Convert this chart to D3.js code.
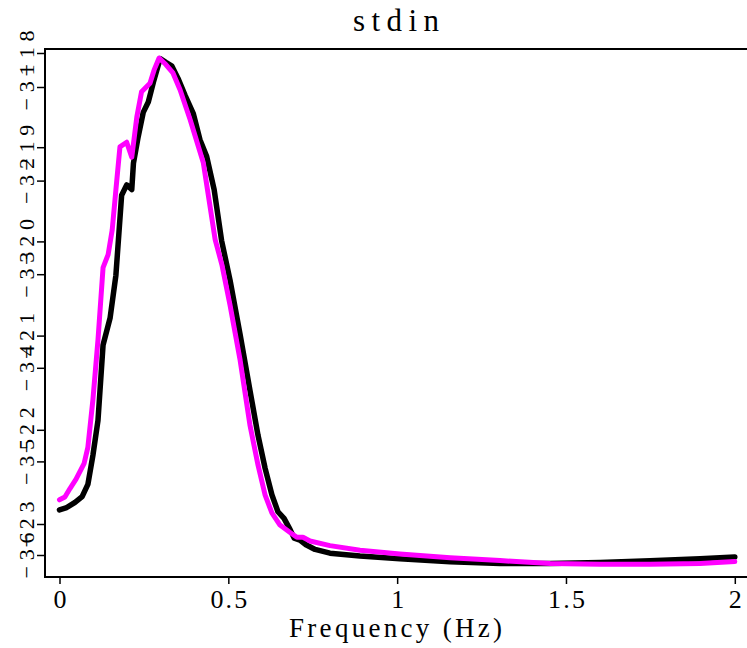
<!DOCTYPE html>
<html>
<head>
<meta charset="utf-8">
<script src="https://cdn.jsdelivr.net/npm/d3@7/dist/d3.min.js"></script>
<style>
  html, body { margin: 0; padding: 0; background: #fff; }
  svg { display: block; }
  text { font-family: "Liberation Serif", "DejaVu Serif", serif; fill: #000; }
</style>
</head>
<body>
<svg id="chart" width="747" height="648"></svg>
<script>
// Amplitude spectra of two traces, each drawn against its own vertical axis.
const blackFreq = [0.000, 0.019, 0.046, 0.067, 0.084, 0.099, 0.114, 0.129, 0.150, 0.167,
  0.184, 0.199, 0.214, 0.219, 0.233, 0.248, 0.263, 0.278, 0.298, 0.315,
  0.333, 0.351, 0.372, 0.396, 0.416, 0.436, 0.458, 0.480, 0.505, 0.535,
  0.564, 0.588, 0.609, 0.629, 0.647, 0.665, 0.683, 0.695, 0.712, 0.730,
  0.757, 0.801, 0.890, 1.008, 1.157, 1.305, 1.453, 1.601, 1.749, 1.897, 2.000];
const blackValue = [-22.85, -22.83, -22.77, -22.71, -22.58, -22.27, -21.90, -21.10, -20.81, -20.36,
  -19.51, -19.40, -19.45, -19.17, -18.89, -18.63, -18.52, -18.31, -18.06, -18.10,
  -18.14, -18.27, -18.45, -18.64, -18.92, -19.10, -19.45, -19.99, -20.41, -20.99,
  -21.58, -22.06, -22.41, -22.69, -22.87, -22.94, -23.06, -23.15, -23.17, -23.22,
  -23.27, -23.31, -23.34, -23.37, -23.40, -23.42, -23.42, -23.41, -23.39, -23.37, -23.35];

const magentaFreq = [0.000, 0.016, 0.031, 0.049, 0.073, 0.084, 0.099, 0.114, 0.129, 0.144,
  0.156, 0.167, 0.179, 0.199, 0.214, 0.229, 0.243, 0.268, 0.280, 0.295,
  0.315, 0.336, 0.357, 0.387, 0.426, 0.461, 0.481, 0.505, 0.535, 0.564,
  0.588, 0.609, 0.629, 0.653, 0.683, 0.703, 0.721, 0.742, 0.801, 0.890,
  1.008, 1.157, 1.305, 1.453, 1.601, 1.749, 1.897, 2.000];
const magentaValue = [-35.41, -35.38, -35.29, -35.19, -35.02, -34.85, -34.34, -33.70, -32.93, -32.79,
  -32.53, -32.10, -31.64, -31.59, -31.75, -31.32, -31.05, -30.96, -30.82, -30.69,
  -30.76, -30.85, -31.03, -31.35, -31.81, -32.63, -32.90, -33.33, -33.92, -34.61,
  -35.04, -35.36, -35.55, -35.68, -35.76, -35.81, -35.81, -35.85, -35.90, -35.95,
  -35.99, -36.03, -36.06, -36.09, -36.10, -36.10, -36.09, -36.07];

const xTicks = [0, 0.5, 1, 1.5, 2];
const xTickLabels = ["0", "0.5", "1", "1.5", "2"];
const blackTicks = [-18, -19, -20, -21, -22, -23];
const magentaTicks = [-31, -32, -33, -34, -35, -36];

const titleText = "stdin";
const xTitleText = "Frequency (Hz)";

const svg = d3.select("#chart");
const W = 747, H = 648;
const frameLeft = 45, frameTop = 49, frameBottom = 577;

const x = d3.scaleLinear().domain([0, 2]).range([59.5, 734.8]);
const yBlack = d3.scaleLinear().domain([-23, -18]).range([524, 53]);
const yMagenta = d3.scaleLinear().domain([-36, -31]).range([555, 87]);

// frame (right edge runs past the page)
svg.append("path")
  .attr("d", `M${W + 5},${frameTop}H${frameLeft}V${frameBottom}H${W + 5}`)
  .attr("fill", "none").attr("stroke", "#000").attr("stroke-width", 2);

// x axis
const gx = svg.append("g").attr("transform", `translate(0,${frameBottom})`)
  .call(d3.axisBottom(x).tickValues(xTicks).tickSize(7)
    .tickFormat((d, i) => xTickLabels[i]));
gx.select(".domain").remove();
gx.selectAll(".tick line").attr("stroke", "#000").attr("stroke-width", 1.5);
gx.selectAll(".tick text")
  .attr("y", 31).attr("dy", 0)
  .attr("font-size", 26)
  .attr("font-family", "Liberation Serif")
  .each(function () {
    const t = d3.select(this);
    const n = t.text().length;
    if (n > 1) t.attr("textLength", n * 12.3).attr("lengthAdjust", "spacing");
  });

// left axes, one per curve, labels turned to read upward
const minusFormat = d => (d < 0 ? "\u2212" : "") + Math.abs(d);
function leftAxis(scale, ticks) {
  const g = svg.append("g").attr("transform", `translate(${frameLeft},0)`)
    .call(d3.axisLeft(scale).tickValues(ticks).tickSize(8).tickFormat(minusFormat));
  g.select(".domain").remove();
  g.selectAll(".tick line").attr("stroke", "#000").attr("stroke-width", 1.5);
  g.selectAll(".tick text")
    .attr("x", 0).attr("y", 0).attr("dy", 0)
    .attr("text-anchor", "middle")
    .attr("transform", "translate(-11,0) rotate(-90)")
    .attr("font-size", 22)
    .attr("font-family", "Liberation Serif")
    .attr("textLength", 46).attr("lengthAdjust", "spacing");
  return g;
}
leftAxis(yBlack, blackTicks);
leftAxis(yMagenta, magentaTicks);

// curves
const blackPts = blackFreq.map((f, i) => [f, blackValue[i]]);
const magentaPts = magentaFreq.map((f, i) => [f, magentaValue[i]]);

svg.append("path").datum(blackPts)
  .attr("d", d3.line().x(d => x(d[0])).y(d => yBlack(d[1])))
  .attr("fill", "none").attr("stroke", "#000").attr("stroke-width", 5.5)
  .attr("stroke-linejoin", "round").attr("stroke-linecap", "round");

svg.append("path").datum(magentaPts)
  .attr("d", d3.line().x(d => x(d[0])).y(d => yMagenta(d[1])))
  .attr("fill", "none").attr("stroke", "#ff00ff").attr("stroke-width", 5)
  .attr("stroke-linejoin", "round").attr("stroke-linecap", "round");

// titles
svg.append("text").attr("text-anchor", "middle")
  .attr("x", 396).attr("y", 31)
  .attr("font-size", 31)
  .attr("textLength", 86).attr("lengthAdjust", "spacing")
  .text(titleText);

svg.append("text").attr("text-anchor", "middle")
  .attr("x", 395.5).attr("y", 637)
  .attr("font-size", 27)
  .attr("textLength", 213).attr("lengthAdjust", "spacing")
  .text(xTitleText);
</script>
</body>
</html>
